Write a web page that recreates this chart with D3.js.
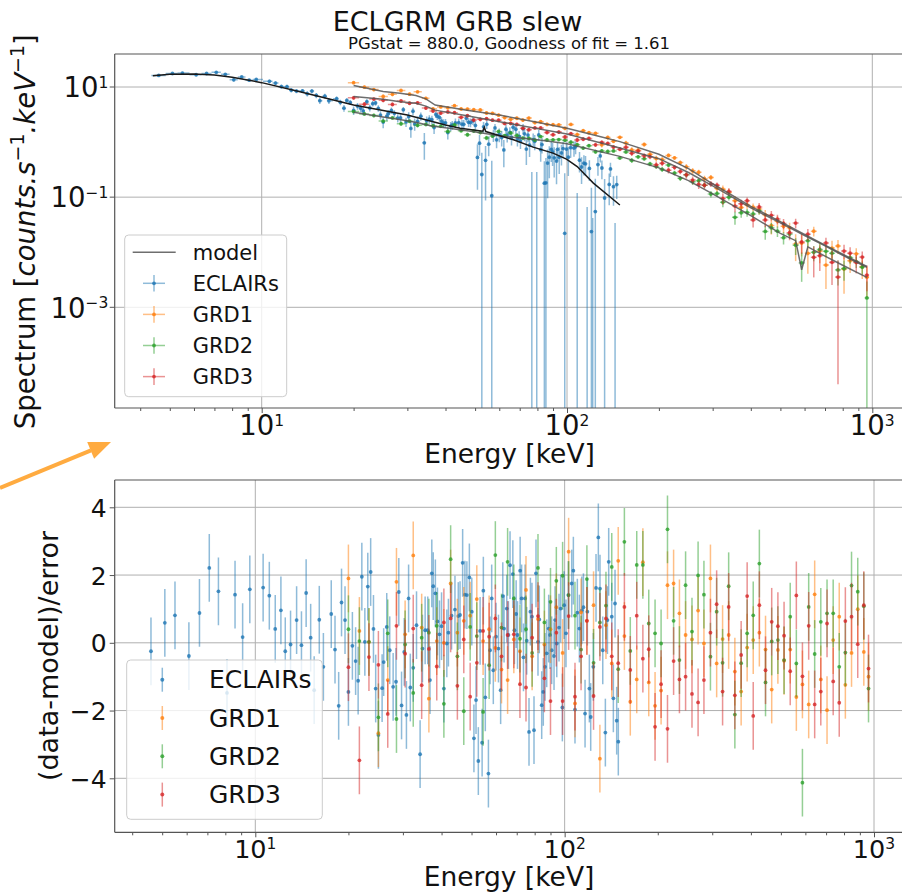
<!DOCTYPE html>
<html>
<head>
<meta charset="utf-8">
<script src="https://cdn.jsdelivr.net/npm/d3@7"></script>
<style>
  body { margin: 0; background: #fff; }
  svg { display: block; font-family: "DejaVu Sans", sans-serif; }
</style>
</head>
<body>
<svg id="chart" width="902" height="895"></svg>
<script>
// ---- ECLAIRs spectrum (keV, counts/s/keV) and residuals ----
const eclEnergy = [
  4.6, 5.1, 5.5, 6.1, 6.6, 7.1, 7.6, 8.1, 8.6, 9.1, 9.6, 10.6, 11.1, 11.6, 12.1, 12.5, 13.0, 13.6, 14.1, 14.6,
  15.1, 15.5, 16.1, 16.6, 17.6, 18.1, 18.6, 19.0, 19.5,
  20.0, 20.6, 21.1, 21.5, 22.1, 22.6, 23.1, 23.6, 24.1, 24.5, 25.0, 25.7, 26.0, 26.6, 27.2, 27.9, 28.5, 29.1, 29.7,
  30.3, 30.8, 31.3, 31.7, 32.4, 33.2, 34.1, 34.7, 35.4, 36.1, 36.7, 37.2, 37.6, 38.2, 38.8, 39.4, 40.0, 40.7, 41.6, 42.1,
  43.1, 44.2, 45.3, 45.9, 46.8, 47.6, 48.3, 49.2, 50.1, 50.9, 51.7, 52.6, 53.3, 54.1, 54.6, 55.4, 56.7, 57.4, 58.1, 58.8,
  60.0, 61.1, 62.1, 63.1, 63.7, 65.0, 65.8, 66.6, 68.0, 68.8, 69.7, 70.4, 71.8, 72.6, 73.6, 74.5, 75.4, 76.7, 77.5, 78.4,
  79.6, 80.8, 82.0, 82.8, 84.3, 85.3, 86.4, 87.5, 88.8, 89.7, 90.8, 92.4, 93.1, 94.3, 95.9, 97.1, 98.3, 99.6, 101.0, 102.8,
  105.4, 106.7, 108.0, 109.9, 111.6, 113.6, 115.0, 116.4, 118.4, 120.2, 121.4, 123.8, 126.3, 128.5, 130.1, 132.8, 135.4, 137.5, 138.8, 142.0,
  143.7, 145.5, 147.3, 149.1
];
const eclFlux = [
  16.2, 17.6, 17.9, 16.7, 17.6, 18.5, 17.0, 13.5, 15.2, 13.3, 13.7, 12.7, 11.8, 10.2, 10.1, 8.75, 8.45, 8.48, 7.55, 8.42,
  7.03, 5.65, 6.82, 5.6, 6.13, 5.27, 4.13, 5.70, 5.23,
  3.75, 4.50, 4.11, 3.68, 5.40, 4.16, 4.99, 5.12, 4.10, 3.09, 2.31, 2.95, 3.30, 3.74, 3.32, 2.73, 2.74, 3.87, 2.32,
  2.89, 1.77, 3.63, 2.14, 2.38, 2.95, 0.968, 2.43, 2.61, 2.55, 1.84, 3.17, 2.95, 2.80, 2.40, 2.20, 2.24, 1.49, 1.95, 2.04,
  2.23, 2.25, 2.11, 2.10, 2.71, 2.29, 2.26, 2.44, 2.01, 0.526, 0.956, 0.258, 1.89, 0.467, 2.10, 0.915, 0.106, 1.34, 1.81, 1.10,
  1.38, 1.21, 0.719, 1.71, 1.34, 1.50, 1.21, 1.86, 1.71, 1.14, 1.27, 1.05, 1.75, 1.41, 0.745, 1.34, 0.877, -0.043, 1.11, 1.03,
  -0.024, 1.35, 0.729, 0.90, 0.179, 0.182, 0.416, 0.531, 0.737, 0.666, 0.518, 0.452, 0.737, 0.533, 0.636, 0.762, 0.022, 0.746, 0.531, 0.79,
  0.78, 0.82, -0.091, 0.47, 0.353, 0.413, 0.402, -0.081, 0.332, 0.0237, -0.078, 0.0547, 0.391, 0.561, 0.338, 0.0965, -0.17, 0.170, 0.326, 0.155,
  -0.047, 0.169, -0.09, -0.128
];
const eclFluxErr = [
  0.98, 1.02, 1.03, 1.03, 1.0, 0.98, 0.94, 0.89, 0.84, 0.79, 0.75, 1.0, 0.94, 0.89, 0.84, 0.81, 0.76, 0.72, 0.84, 0.80,
  0.76, 0.73, 0.70, 0.67, 0.62, 0.59, 0.57, 0.55, 0.54,
  0.66, 0.64, 0.62, 0.61, 0.59, 0.58, 0.57, 0.55, 0.54, 0.53, 0.52, 0.51, 0.50, 0.49, 0.48, 0.47, 0.46, 0.45, 0.44,
  0.58, 0.57, 0.55, 0.54, 0.53, 0.51, 0.49, 0.48, 0.46, 0.45, 0.44, 0.43, 0.43, 0.42, 0.41, 0.40, 0.39, 0.38, 0.37, 0.37,
  0.45, 0.44, 0.43, 0.42, 0.42, 0.41, 0.41, 0.40, 0.40, 0.39, 0.39, 0.38, 0.42, 0.38, 0.37, 0.36, 0.35, 0.34, 0.33, 0.33,
  0.39, 0.38, 0.37, 0.36, 0.36, 0.35, 0.34, 0.33, 0.32, 0.31, 0.30, 0.30, 0.38, 0.37, 0.36, 0.35, 0.34, 0.33, 0.32, 0.32,
  0.31, 0.30, 0.29, 0.28, 0.27, 0.33, 0.32, 0.31, 0.30, 0.30, 0.29, 0.28, 0.28, 0.27, 0.26, 0.25, 0.25, 0.24, 0.29, 0.27,
  0.24, 0.22, 0.21, 0.19, 0.18, 0.165, 0.155, 0.147, 0.135, 0.125, 0.12, 0.16, 0.146, 0.135, 0.127, 0.116, 0.106, 0.099, 0.095, 0.085,
  0.081, 0.076, 0.072, 0.068
];
const eclResid = [
  -0.25, 0.59, 0.81, -0.39, 0.88, 2.21, 1.52, -1.48, 1.42, 0.17, 1.58, 1.63, 1.39, 0.41, 0.96, -0.25, -0.05, 0.67, -0.07, 1.47,
  0.15, -1.4, 0.68, -0.71, 0.85, -0.2, -1.86, 1.19, 0.67,
  -1.45, -0.09, -0.54, -1.12, 1.95, 0.03, 1.66, 2.09, 0.41, -1.35, -2.72, -1.34, -0.57, 0.47, -0.22, -1.3, -1.15, 1.5, -1.85,
  -0.27, -2.13, 1.31, -1.32, -0.74, 0.52, -3.29, -0.17, 0.37, 0.37, -1.1, 2.05, 1.67, 1.46, 0.63, 0.25, 0.49, -1.35, -0.02, 0.3,
  0.80, 0.98, 0.79, 0.82, 2.36, 1.42, 1.41, 1.93, 0.92, -2.82, -1.69, -3.49, 0.35, -2.95, 1.54, -1.61, -3.86, -0.22, 1.31, -0.81,
  0.18, -0.17, -1.40, 1.38, 0.42, 1.01, 0.23, 2.29, 2.03, 0.37, 0.85, 0.23, 2.13, 1.31, -0.43, 1.31, 0.06, -2.63, 0.92, 0.77,
  -2.58, 2.05, 0.03, 0.69, -1.84, -1.45, -0.71, -0.31, 0.42, 0.23, -0.22, -0.39, 0.67, -0.02, 0.45, 1.01, -1.91, 1.11, 0.28, 1.41,
  1.75, 2.13, -1.97, 0.89, 0.42, 0.96, 1.05, -2.09, 0.92, -1.35, -2.19, -0.71, 1.62, 3.11, 1.60, -0.22, -2.65, 0.67, 2.39, 0.77,
  -1.64, 1.16, -2.30, -2.92
];

// ---- GRD detectors, shared energy bins ----
const grdEnergy = [
  20.0, 21.7, 23.3, 25.0, 26.8, 28.6, 30.5, 32.4, 34.5, 36.4, 38.6, 40.7, 42.8, 45.0, 47.2, 49.5, 52, 54.5, 57, 59.7,
  62.5, 65.4, 68.5, 71.7, 75, 78.5, 82, 86, 90, 94, 98.5, 103, 108, 113, 118, 124, 130, 136, 142, 149,
  156, 163, 171, 179, 187, 196, 205, 215, 225, 235, 246, 258, 270, 282, 296, 310, 324, 339, 355, 372,
  389, 407, 426, 446, 467, 489, 512, 536, 561, 587, 615, 643, 673, 705, 738, 772, 808, 846, 886, 927, 960
];
const grd1Flux = [
  12.0, 9.94, 8.97, 6.75, 7.35, 8.63, 7.40, 8.18, 6.22, 4.01, 4.35, 4.18, 4.58, 4.00, 3.98, 3.86, 3.83, 3.37, 3.33, 3.08,
  2.79, 2.59, 2.71, 2.51, 2.73, 2.26, 2.34, 2.10, 2.07, 2.06, 1.78, 2.09, 1.37, 1.61, 1.48, 1.44, 0.893, 1.21, 1.04, 1.22,
  0.959, 0.719, 0.714, 0.904, 0.600, 0.505, 0.481, 0.573, 0.517, 0.424, 0.355, 0.300, 0.283, 0.216, 0.228, 0.145, 0.139, 0.122, 0.0864, 0.0652,
  0.0727, 0.0657, 0.0607, 0.0477, 0.0305, 0.0366, 0.0296, 0.0279, 0.0141, 0.0147, 0.00956, 0.0241, 0.0105, 0.00585, 0.0119, 0.0130, 0.00496, 0.0070, 0.00934, 0.00546,
  0.00352
];
const grd1FluxErr = [
  0.74, 0.68, 0.63, 0.58, 0.56, 0.54, 0.51, 0.49, 0.42, 0.32, 0.30, 0.29, 0.30, 0.29, 0.28, 0.27, 0.26, 0.25, 0.24, 0.23,
  0.22, 0.21, 0.20, 0.19, 0.18, 0.175, 0.167, 0.158, 0.151, 0.143, 0.137, 0.138, 0.128, 0.12, 0.113, 0.106, 0.098, 0.093, 0.087, 0.082,
  0.094, 0.087, 0.080, 0.073, 0.068, 0.062, 0.056, 0.049, 0.044, 0.039, 0.045, 0.0385, 0.0328, 0.0282, 0.0238, 0.0204, 0.0231, 0.0199, 0.0172, 0.0147,
  0.0127, 0.011, 0.0125, 0.011, 0.0096, 0.0084, 0.0074, 0.0064, 0.0072, 0.0063, 0.0055, 0.0048, 0.0042, 0.0037, 0.0042, 0.0037, 0.0032, 0.0028, 0.0025, 0.0022,
  0.002
];
const grd1Resid = [
  1.90, 0.35, 0.02, -2.67, -1.10, 1.80, 0.25, 2.58, 0.45, -1.65, 0.05, 0.00, 1.75, 0.30, 0.65, 0.80, 1.29, 0.05, 0.40, -0.15,
  -0.79, -1.10, 0.10, -0.25, 1.56, -0.40, 0.70, -0.05, 0.40, 1.05, -0.30, 2.69, -1.79, 0.90, 0.65, 1.11, -3.42, 0.52, -0.61, 2.42,
  0.20, -1.74, -1.08, 2.38, -1.17, -1.86, -1.41, 1.70, 1.75, 0.87, 0.23, 0.10, 0.95, -0.02, 1.90, -0.61, 0.11, 0.23, -0.85, -1.44,
  -0.14, 0.08, 0.30, -0.20, -1.38, -0.21, -0.53, -0.20, -1.60, -1.23, -1.82, 1.43, -1.08, -1.99, 0.08, 0.77, -1.24, -0.30, 0.99, -0.27,
  -1.00
];
const grd2Flux = [
  3.58, 3.24, 3.04, 2.41, 2.74, 2.15, 2.39, 2.02, 2.09, 1.98, 1.93, 1.56, 2.04, 1.61, 1.36, 1.59, 1.49, 1.19, 1.29, 1.56,
  1.31, 1.46, 1.32, 1.18, 1.17, 1.085, 1.26, 1.09, 1.10, 1.11, 1.08, 0.996, 0.894, 0.779, 0.86, 0.667, 0.69, 0.675, 0.691, 0.516,
  0.662, 0.464, 0.54, 0.50, 0.401, 0.361, 0.319, 0.382, 0.274, 0.22, 0.254, 0.19, 0.199, 0.165, 0.114, 0.116, 0.081, 0.100, 0.0431, 0.0521,
  0.0526, 0.0494, 0.0565, 0.0239, 0.0277, 0.0241, 0.0184, 0.0214, 0.0134, 0.0064, 0.0162, 0.00994, 0.0112, 0.0104, 0.0096, 0.00478, 0.00505, 0.0080, 0.00675, 0.00536,
  0.00148
];
const grd2FluxErr = [
  0.244, 0.226, 0.212, 0.2, 0.188, 0.179, 0.168, 0.158, 0.145, 0.136, 0.13, 0.125, 0.129, 0.125, 0.12, 0.116, 0.11, 0.106, 0.102, 0.098,
  0.095, 0.093, 0.09, 0.088, 0.086, 0.083, 0.081, 0.078, 0.076, 0.073, 0.071, 0.072, 0.067, 0.063, 0.06, 0.056, 0.053, 0.05, 0.047, 0.044,
  0.051, 0.048, 0.044, 0.041, 0.038, 0.035, 0.032, 0.029, 0.026, 0.023, 0.027, 0.024, 0.021, 0.018, 0.0156, 0.0135, 0.0153, 0.0132, 0.0114, 0.0099,
  0.0085, 0.0074, 0.0082, 0.0071, 0.0061, 0.0052, 0.0046, 0.004, 0.0045, 0.0035, 0.0035, 0.0031, 0.0027, 0.0023, 0.0026, 0.0023, 0.002, 0.0018, 0.0016, 0.0014,
  0.00147
];
const grd2Resid = [
  0.40, 0.05, 0.03, -2.20, 0.28, -2.25, -0.05, -1.48, 0.15, 0.30, 0.50, -1.80, 2.47, -0.40, -2.02, 0.47, 0.20, -2.04, -0.66, 2.59,
  0.45, 2.39, 1.31, 0.12, 0.40, -0.30, 2.21, 0.60, 1.21, 1.83, 1.98, 1.41, 0.80, -0.20, 1.88, -0.59, 0.60, 1.10, 2.24, -0.78,
  2.98, -0.24, 2.30, 2.30, 0.57, 0.28, -0.02, 3.35, 0.65, -0.51, 1.70, 0.33, 1.99, 1.42, -0.41, 0.92, -0.59, 1.67, -2.12, -0.60,
  0.28, 0.81, 2.34, -1.17, 0.04, 0.08, -0.51, 0.77, -0.61, -4.13, 1.06, -0.33, 0.62, 0.87, 0.87, -0.71, -0.29, 1.69, 1.51, 1.08,
  -1.35
];
const grd3Flux = [
  6.36, 4.87, 6.03, 5.73, 4.83, 5.57, 5.07, 5.16, 4.15, 3.67, 3.36, 3.52, 3.41, 2.81, 3.01, 2.51, 2.59, 2.66, 2.50, 2.49,
  2.18, 2.19, 2.09, 1.78, 1.68, 1.81, 1.81, 1.50, 1.36, 1.52, 1.24, 1.42, 1.09, 1.13, 1.16, 0.892, 0.989, 0.943, 0.810, 0.743,
  0.805, 0.626, 0.685, 0.564, 0.543, 0.387, 0.412, 0.309, 0.348, 0.293, 0.254, 0.204, 0.170, 0.165, 0.174, 0.165, 0.0944, 0.127, 0.0689, 0.0756,
  0.0862, 0.0386, 0.0664, 0.0386, 0.0468, 0.040, 0.0332, 0.0226, 0.0338, 0.0154, 0.0213, 0.00809, 0.00866, 0.0147, 0.00655, 0.00354, 0.0105, 0.0096, 0.00653, 0.00816,
  0.00385
];
const grd3FluxErr = [
  0.47, 0.45, 0.43, 0.42, 0.40, 0.38, 0.36, 0.35, 0.32, 0.26, 0.25, 0.24, 0.24, 0.23, 0.22, 0.21, 0.20, 0.19, 0.185, 0.177,
  0.169, 0.161, 0.154, 0.147, 0.14, 0.134, 0.128, 0.122, 0.117, 0.112, 0.107, 0.107, 0.1, 0.094, 0.088, 0.082, 0.076, 0.071, 0.067, 0.062,
  0.073, 0.068, 0.063, 0.059, 0.055, 0.052, 0.047, 0.041, 0.037, 0.033, 0.038, 0.033, 0.029, 0.025, 0.0217, 0.0187, 0.0213, 0.0184, 0.0159, 0.0137,
  0.0119, 0.0104, 0.0117, 0.0103, 0.0091, 0.0079, 0.007, 0.0061, 0.0068, 0.006, 0.0052, 0.0046, 0.0041, 0.0036, 0.004, 0.0035, 0.0031, 0.0027, 0.0024, 0.0021,
  0.0019
];
const grd3Resid = [
  -0.72, -3.47, -0.42, -0.65, -2.10, 0.50, -0.32, 0.42, -1.25, -0.18, -0.70, 0.60, 0.72, -1.27, 0.10, -1.59, -0.59, 0.35, 0.18, 0.72,
  -0.40, 0.23, 0.25, -1.22, -1.32, 0.15, 0.79, -1.05, -1.72, 0.30, -1.72, 0.79, -1.59, -0.40, 0.65, -1.57, 0.47, 0.72, -0.40, -0.60,
  1.06, -0.80, 0.80, -0.47, -0.19, -2.48, -1.22, -2.54, -0.54, -1.08, -1.00, -1.51, -1.76, -1.10, 0.30, 1.14, -1.44, 1.06, -1.55, -0.36,
  1.38, -2.16, 1.11, -0.81, 0.62, 0.49, 0.21, -0.84, 1.40, -0.99, 0.50, -1.82, -1.44, 0.57, -1.14, -1.77, 0.64, 0.77, -0.04, 1.11,
  -0.76
];
// residuals are in units of the error, so each bar is +-1
const residErr = 1;

// ---- fitted model curves ----
const eclModelE = [4.4, 5, 6, 7, 8, 10, 13.35, 20, 30, 40, 44.7, 53, 53.6, 54.2, 66.8, 77.5, 90, 99.6, 108, 122, 149];
const eclModel = [16.0, 17.0, 17.2, 16.5, 15.0, 12.0, 8.2, 4.7, 3.1, 2.05, 1.79, 1.58, 1.85, 1.55, 1.1, 0.81, 0.63, 0.49, 0.36, 0.18, 0.072];
const grd1ModelE = [20, 25, 28.4, 32, 34.5, 37, 47, 60, 77.5, 100, 128, 149, 200, 250, 300, 400, 500, 600, 700, 800, 960];
const grd1Model = [10.6, 8.3, 7.7, 7.0, 6.1, 4.7, 3.8, 3.1, 2.36, 1.79, 1.26, 1.02, 0.60, 0.33, 0.175, 0.068, 0.036, 0.021, 0.0135, 0.0092, 0.0055];
const grd2ModelE = [20, 25, 30, 33, 36, 40.5, 49, 60, 80, 100, 149, 200, 250, 300, 400, 500, 561, 587, 615, 700, 800, 960];
const grd2Model = [3.48, 2.85, 2.45, 2.2, 1.95, 1.8, 1.55, 1.3, 1.1, 0.93, 0.55, 0.34, 0.2, 0.115, 0.046, 0.022, 0.0162, 0.0048, 0.0125, 0.0085, 0.0058, 0.0035];
const grd3ModelE = [20, 25, 28.4, 32, 34.5, 37, 47, 60, 100, 149, 200, 250, 300, 400, 500, 600, 700, 800, 960];
const grd3Model = [6.7, 6.0, 5.4, 5.05, 4.5, 3.8, 3.0, 2.35, 1.4, 0.78, 0.50, 0.28, 0.16, 0.064, 0.034, 0.020, 0.013, 0.0088, 0.0053];

const seriesNames = ['ECLAIRs', 'GRD1', 'GRD2', 'GRD3'];
const seriesColors = ['#1f77b4', '#ff7f0e', '#2ca02c', '#d62728'];
const xTickValues = [10, 100, 1000];
const xMinorTicks = [4, 5, 6, 7, 8, 9, 20, 30, 40, 50, 60, 70, 80, 90, 200, 300, 400, 500, 600, 700, 800, 900];
const yTopTicks = [1, -1, -3];          // exponents of the labelled decades
const yResTicks = [4, 2, 0, -2, -4];

const svg = d3.select('#chart');

// ---- layout ----
const boxTop = { left: 114.7, right: 905, top: 54, bottom: 408 };
const boxBot = { left: 114.7, right: 905, top: 480, bottom: 832.3 };

const xTop = d3.scaleLog().domain([10, 1000]).range([261.7, 872.3]);
const yTop = d3.scaleLog().domain([10, 1e-3]).range([87, 307.3]);
const xBot = d3.scaleLog().domain([10, 1000]).range([255.3, 874]);
const yBot = d3.scaleLinear().domain([4, -4]).range([507.3, 778.3]);

const defs = svg.append('defs');
defs.append('clipPath').attr('id', 'clipTop').append('rect')
  .attr('x', boxTop.left).attr('y', boxTop.top).attr('width', boxTop.right - boxTop.left).attr('height', boxTop.bottom - boxTop.top);
defs.append('clipPath').attr('id', 'clipBot').append('rect')
  .attr('x', boxBot.left).attr('y', boxBot.top).attr('width', boxBot.right - boxBot.left).attr('height', boxBot.bottom - boxBot.top);

function binEdges(energy) {
  const n = energy.length;
  return energy.map((e, i) => {
    const lo = i > 0 ? (energy[i - 1] + e) / 2 : e - (energy[1] - e) / 2;
    const hi = i < n - 1 ? (e + energy[i + 1]) / 2 : e + (e - energy[n - 2]) / 2;
    return [lo, hi];
  });
}

function grid(g, x, y, box, xs, ys) {
  g.selectAll('.gx').data(xs).enter().append('line')
    .attr('x1', d => x(d)).attr('x2', d => x(d))
    .attr('y1', box.top).attr('y2', box.bottom)
    .attr('stroke', '#b0b0b0').attr('stroke-width', 1);
  g.selectAll('.gy').data(ys).enter().append('line')
    .attr('x1', box.left).attr('x2', box.right)
    .attr('y1', d => y(d)).attr('y2', d => y(d))
    .attr('stroke', '#b0b0b0').attr('stroke-width', 1);
}

function frame(g, box) {
  const c = '#555';
  g.append('line').attr('x1', box.left).attr('x2', box.left).attr('y1', box.top).attr('y2', box.bottom)
    .attr('stroke', c).attr('stroke-width', 1.2);
  g.append('line').attr('x1', box.left).attr('x2', box.right).attr('y1', box.top).attr('y2', box.top)
    .attr('stroke', c).attr('stroke-width', 1.2);
  g.append('line').attr('x1', box.left).attr('x2', box.right).attr('y1', box.bottom).attr('y2', box.bottom)
    .attr('stroke', c).attr('stroke-width', 1.2);
}

function xTicks(g, x, box) {
  const major = g.append('g').attr('transform', `translate(0,${box.bottom})`)
    .call(d3.axisBottom(x).tickValues(xTickValues).tickSize(5).tickSizeOuter(0).tickFormat(''));
  const minor = g.append('g').attr('transform', `translate(0,${box.bottom})`)
    .call(d3.axisBottom(x).tickValues(xMinorTicks).tickSize(3).tickSizeOuter(0).tickFormat(''));
  [major, minor].forEach(a => {
    a.select('.domain').remove();
    a.selectAll('line').attr('stroke', '#555').attr('stroke-width', 1);
  });
}

function powLabel(g, x, y, exp, size, supSize, supDy, anchor) {
  const t = g.append('text').attr('x', x).attr('y', y)
    .attr('text-anchor', anchor).attr('font-size', size).attr('fill', '#111');
  t.append('tspan').text('10');
  t.append('tspan').attr('font-size', supSize).attr('dy', supDy)
    .text(exp < 0 ? '\u2212' + (-exp) : String(exp));
}

// ---------- top panel ----------
const gTop = svg.append('g');
grid(gTop, xTop, yTop, boxTop, xTickValues, yTopTicks.map(p => Math.pow(10, p)));

const plotTop = gTop.append('g').attr('clip-path', 'url(#clipTop)');

function drawSpectrum(energy, flux, err, color) {
  const g = plotTop.append('g');
  const edges = binEdges(energy);
  energy.forEach((e, i) => {
    const lo = flux[i] - err[i];
    const hi = flux[i] + err[i];
    const xp = xTop(e);
    if (hi > 0) {
      g.append('line').attr('x1', xp).attr('x2', xp)
        .attr('y1', lo > 0 ? yTop(lo) : boxTop.bottom + 5).attr('y2', yTop(hi))
        .attr('stroke', color).attr('stroke-width', 1.5).attr('stroke-opacity', 0.5);
    }
    if (flux[i] > 0) {
      const yp = yTop(flux[i]);
      g.append('line').attr('x1', xTop(edges[i][0])).attr('x2', xTop(edges[i][1]))
        .attr('y1', yp).attr('y2', yp)
        .attr('stroke', color).attr('stroke-width', 1.5).attr('stroke-opacity', 0.5);
      g.append('circle').attr('cx', xp).attr('cy', yp).attr('r', 1.9)
        .attr('fill', color).attr('fill-opacity', 0.8);
    }
  });
}

drawSpectrum(eclEnergy, eclFlux, eclFluxErr, seriesColors[0]);
drawSpectrum(grdEnergy, grd1Flux, grd1FluxErr, seriesColors[1]);
drawSpectrum(grdEnergy, grd2Flux, grd2FluxErr, seriesColors[2]);
drawSpectrum(grdEnergy, grd3Flux, grd3FluxErr, seriesColors[3]);

const modelLine = d3.line().x(d => xTop(d[0])).y(d => yTop(d[1]));
[[grd1ModelE, grd1Model], [grd2ModelE, grd2Model], [grd3ModelE, grd3Model]].forEach(([e, m]) => {
  plotTop.append('path').datum(d3.zip(e, m)).attr('d', modelLine)
    .attr('fill', 'none').attr('stroke', '#555').attr('stroke-opacity', 0.85).attr('stroke-width', 1.5);
});
plotTop.append('path').datum(d3.zip(eclModelE, eclModel)).attr('d', modelLine)
  .attr('fill', 'none').attr('stroke', '#1a1a1a').attr('stroke-width', 1.5);

frame(gTop, boxTop);
xTicks(gTop, xTop, boxTop);
gTop.selectAll('.ytick').data(yTopTicks).enter().append('line')
  .attr('x1', boxTop.left - 5).attr('x2', boxTop.left)
  .attr('y1', d => yTop(Math.pow(10, d))).attr('y2', d => yTop(Math.pow(10, d)))
  .attr('stroke', '#555');

xTickValues.forEach(v => powLabel(gTop, xTop(v), 435, Math.round(Math.log10(v)), 27.5, 15.5, -9.5, 'middle'));
yTopTicks.forEach(p => powLabel(gTop, 108.3, yTop(Math.pow(10, p)) + 10.2, p, 27.5, 15.5, -9.5, 'end'));

gTop.append('text').attr('x', 509.5).attr('y', 463).attr('text-anchor', 'middle')
  .attr('font-size', 26.5).attr('fill', '#111').text('Energy [keV]');

const yl = gTop.append('text').attr('transform', 'translate(35,231.7) rotate(-90)')
  .attr('text-anchor', 'middle').attr('font-size', 27.5).attr('fill', '#111');
yl.append('tspan').text('Spectrum [');
yl.append('tspan').attr('font-style', 'italic').text('counts.s');
yl.append('tspan').attr('font-size', 19).attr('dy', -11).text('\u22121');
yl.append('tspan').attr('dy', 11).attr('font-style', 'italic').text('.keV');
yl.append('tspan').attr('font-size', 19).attr('dy', -11).text('\u22121');
yl.append('tspan').attr('dy', 11).text(']');

svg.append('text').attr('x', 457.5).attr('y', 31).attr('text-anchor', 'middle')
  .attr('font-size', 27).attr('fill', '#111').text('ECLGRM GRB slew');
svg.append('text').attr('x', 509).attr('y', 49).attr('text-anchor', 'middle')
  .attr('font-size', 16.5).attr('fill', '#111').text('PGstat = 880.0, Goodness of fit = 1.61');

// top legend
const lgTop = gTop.append('g');
lgTop.append('rect').attr('x', 124.7).attr('y', 235).attr('width', 162).attr('height', 161.7).attr('rx', 4)
  .attr('fill', '#fff').attr('fill-opacity', 0.8).attr('stroke', '#cccccc');
lgTop.append('line').attr('x1', 132.7).attr('x2', 175.7).attr('y1', 252.3).attr('y2', 252.3)
  .attr('stroke', '#555').attr('stroke-opacity', 0.85).attr('stroke-width', 1.5);
lgTop.append('text').attr('x', 192.7).attr('y', 259.8).attr('font-size', 21).attr('fill', '#111').text('model');
seriesNames.forEach((name, i) => {
  const base = 291 + i * 31.1;
  const cy = base - 7.7;
  const c = seriesColors[i];
  lgTop.append('line').attr('x1', 154).attr('x2', 154).attr('y1', cy - 8.3).attr('y2', cy + 8.3)
    .attr('stroke', c).attr('stroke-width', 1.5).attr('stroke-opacity', 0.5);
  lgTop.append('line').attr('x1', 143).attr('x2', 165).attr('y1', cy).attr('y2', cy)
    .attr('stroke', c).attr('stroke-width', 1.5).attr('stroke-opacity', 0.5);
  lgTop.append('circle').attr('cx', 154).attr('cy', cy).attr('r', 1.9).attr('fill', c).attr('fill-opacity', 0.8);
  lgTop.append('text').attr('x', 192.7).attr('y', base).attr('font-size', 21).attr('fill', '#111').text(name);
});

// ---------- bottom panel ----------
const gBot = svg.append('g');
grid(gBot, xBot, yBot, boxBot, xTickValues, yResTicks);
const plotBot = gBot.append('g').attr('clip-path', 'url(#clipBot)');

function drawResid(energy, resid, color) {
  const g = plotBot.append('g');
  energy.forEach((e, i) => {
    const xp = xBot(e);
    g.append('line').attr('x1', xp).attr('x2', xp)
      .attr('y1', yBot(resid[i] - residErr)).attr('y2', yBot(resid[i] + residErr))
      .attr('stroke', color).attr('stroke-width', 1.5).attr('stroke-opacity', 0.5);
    g.append('circle').attr('cx', xp).attr('cy', yBot(resid[i])).attr('r', 1.9)
      .attr('fill', color).attr('fill-opacity', 0.8);
  });
}
drawResid(eclEnergy, eclResid, seriesColors[0]);
drawResid(grdEnergy, grd1Resid, seriesColors[1]);
drawResid(grdEnergy, grd2Resid, seriesColors[2]);
drawResid(grdEnergy, grd3Resid, seriesColors[3]);

frame(gBot, boxBot);
xTicks(gBot, xBot, boxBot);
const yAxisBot = gBot.append('g').attr('transform', `translate(${boxBot.left},0)`)
  .call(d3.axisLeft(yBot).tickValues(yResTicks).tickSize(5).tickSizeOuter(0)
    .tickFormat(d => d < 0 ? '\u2212' + (-d) : String(d)));
yAxisBot.select('.domain').remove();
yAxisBot.selectAll('line').attr('stroke', '#555');
yAxisBot.selectAll('text').attr('font-size', 25).attr('fill', '#111')
  .attr('font-family', '"DejaVu Sans", sans-serif').attr('x', -8).attr('dy', '0.36em');

xTickValues.forEach(v => powLabel(gBot, xBot(v), 858, Math.round(Math.log10(v)), 25.5, 15.5, -9, 'middle'));

gBot.append('text').attr('x', 509).attr('y', 886).attr('text-anchor', 'middle')
  .attr('font-size', 26.5).attr('fill', '#111').text('Energy [keV]');
gBot.append('text').attr('transform', 'translate(58,656) rotate(-90)').attr('text-anchor', 'middle')
  .attr('font-size', 27).attr('fill', '#111').text('(data-model)/error');

// bottom legend
const lgBot = gBot.append('g');
lgBot.append('rect').attr('x', 126.7).attr('y', 660).attr('width', 195.6).attr('height', 159.3).attr('rx', 4)
  .attr('fill', '#fff').attr('fill-opacity', 0.8).attr('stroke', '#cccccc');
seriesNames.forEach((name, i) => {
  const base = 688.3 + i * 38.3;
  const cy = base - 8.6;
  const c = seriesColors[i];
  lgBot.append('line').attr('x1', 162.3).attr('x2', 162.3).attr('y1', cy - 12).attr('y2', cy + 12)
    .attr('stroke', c).attr('stroke-width', 1.5).attr('stroke-opacity', 0.5);
  lgBot.append('circle').attr('cx', 162.3).attr('cy', cy).attr('r', 2).attr('fill', c).attr('fill-opacity', 0.8);
  lgBot.append('text').attr('x', 209).attr('y', base).attr('font-size', 25).attr('fill', '#111').text(name);
});

// orange annotation arrow between the panels
const arrowColor = '#ffab40';
svg.append('line').attr('x1', 0).attr('y1', 488).attr('x2', 91).attr('y2', 450.3)
  .attr('stroke', arrowColor).attr('stroke-width', 4);
svg.append('path').attr('d', 'M111,442 L87.2,442.1 L94.1,458.8 Z').attr('fill', arrowColor);
</script>
</body>
</html>
